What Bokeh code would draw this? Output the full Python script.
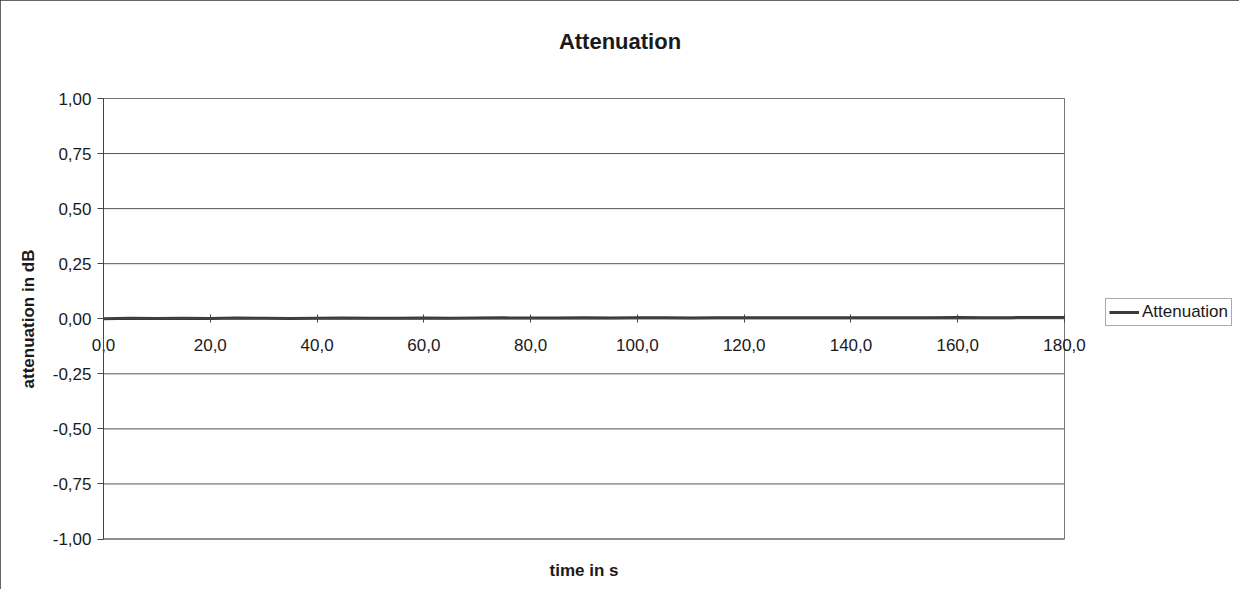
from bokeh.plotting import figure
from bokeh.models import (Range1d, FixedTicker, CustomJSTickFormatter, LinearAxis,
                          Legend, LegendItem, Title)
from bokeh.embed import file_html
from bokeh.resources import INLINE

# ---- data ----
time_s = [0, 5, 10, 15, 20, 25, 30, 35, 40, 45, 50, 55, 60, 65, 70, 75, 80, 85, 90,
          95, 100, 105, 110, 115, 120, 125, 130, 135, 140, 145, 150, 155, 160, 165,
          170, 175, 180]
attenuation_db = [0.000, 0.002, 0.001, 0.002, 0.001, 0.003, 0.002, 0.001, 0.002, 0.003,
                  0.002, 0.002, 0.003, 0.002, 0.003, 0.004, 0.003, 0.003, 0.004, 0.003,
                  0.004, 0.004, 0.003, 0.004, 0.005, 0.004, 0.005, 0.004, 0.005, 0.005,
                  0.004, 0.005, 0.006, 0.005, 0.005, 0.006, 0.006]
x_ticks = [0, 20, 40, 60, 80, 100, 120, 140, 160, 180]
y_ticks = [-1.0, -0.75, -0.5, -0.25, 0.0, 0.25, 0.5, 0.75, 1.0]
x_min, x_max = 0, 180
y_min, y_max = -1.0, 1.0
series_name = "Attenuation"
title_text = "Attenuation"
x_title = "time in s"
y_title = "attenuation in dB"

FONT = "Liberation Sans"
TXT = "#1a1a1a"

# ---- layout (pixels inside the figure) ----
W, H = 1239, 589
FRAME_L, FRAME_R = 2, W - 2
FRAME_TOP, FRAME_BOTTOM = 72, 552          # drawing frame (covers labels too)
AREA_L, AREA_R = 103, 1064                 # plot area in pixels
AREA_T, AREA_B = 98, 538.5

ux = (x_max - x_min) / (AREA_R - AREA_L)
uy = (y_max - y_min) / (AREA_B - AREA_T)
x_range = Range1d(x_min - (AREA_L - FRAME_L) * ux, x_max + (FRAME_R - AREA_R) * ux)
y_range = Range1d(y_min - (FRAME_BOTTOM - AREA_B) * uy, y_max + (AREA_T - FRAME_TOP) * uy)

p = figure(width=W, height=H, output_backend="svg", toolbar_location=None,
           x_range=x_range, y_range=y_range,
           x_axis_location=None, y_axis_location=None,
           min_border_left=FRAME_L, min_border_right=W - FRAME_R,
           min_border_top=FRAME_TOP, min_border_bottom=H - FRAME_BOTTOM)

p.outline_line_color = None
p.background_fill_color = "white"
p.border_fill_color = "white"
p.styles = {"outline": "1px solid #333333", "outline-offset": "-1px"}
p.xgrid.visible = False
p.ygrid.visible = False

# title
p.title.text = title_text
p.title.align = "center"
p.title.offset = 0
p.title.standoff = 38
p.title.text_font = FONT
p.title.text_font_size = "22px"
p.title.text_font_style = "bold"
p.title.text_color = TXT

# plot area: horizontal grid lines and border
p.segment(x0=[x_min] * len(y_ticks), x1=[x_max] * len(y_ticks), y0=y_ticks, y1=y_ticks,
          line_color="#555555", line_width=1)
p.quad(left=[x_min], right=[x_max], bottom=[y_min], top=[y_max],
       fill_color=None, line_color="#777777", line_width=1)

# y axis at x = 0
ya = LinearAxis(fixed_location=x_min, bounds=(y_min, y_max), ticker=FixedTicker(ticks=y_ticks),
                formatter=CustomJSTickFormatter(code="return tick.toFixed(2).replace('.', ',');"))
ya.axis_label = y_title
ya.axis_label_text_font = FONT
ya.axis_label_text_font_size = "17px"
ya.axis_label_text_font_style = "bold"
ya.axis_label_text_color = TXT
ya.axis_label_standoff = 12
ya.major_label_text_font = FONT
ya.major_label_text_font_size = "17px"
ya.major_label_text_color = TXT
ya.major_label_standoff = 6
ya.major_tick_in = 0
ya.major_tick_out = 6
ya.minor_tick_line_color = None
ya.axis_line_color = "#444444"
ya.major_tick_line_color = "#444444"
p.add_layout(ya, "left")

# x axis crossing at y = 0
xa = LinearAxis(fixed_location=0, bounds=(x_min, x_max), ticker=FixedTicker(ticks=x_ticks),
                formatter=CustomJSTickFormatter(code="return tick.toFixed(1).replace('.', ',');"))
xa.major_label_text_font = FONT
xa.major_label_text_font_size = "17px"
xa.major_label_text_color = TXT
xa.major_label_standoff = 16
xa.major_tick_in = 4
xa.major_tick_out = 4
xa.minor_tick_line_color = None
xa.axis_line_color = "#444444"
xa.major_tick_line_color = "#444444"
p.add_layout(xa, "below")

# x axis title, centred under the plot area (left-aligned title shifted by offset)
area_center = (AREA_L + AREA_R) / 2
x_title_width = 69
xt = Title(text=x_title, align="left", offset=area_center - x_title_width / 2 - FRAME_L,
           standoff=13, text_font=FONT, text_font_size="17px", text_font_style="bold",
           text_color=TXT)
p.add_layout(xt, "below")

r = p.line(time_s, attenuation_db, line_color="#3a3a3a", line_width=3)

legend = Legend(items=[LegendItem(label=series_name, renderers=[r])],
                location=(1105 - FRAME_L, FRAME_BOTTOM - 326), orientation="vertical")
legend.label_text_font = FONT
legend.label_text_font_size = "17px"
legend.label_text_color = TXT
legend.border_line_color = "#555555"
legend.border_line_width = 1
legend.background_fill_color = "white"
legend.background_fill_alpha = 1
legend.padding = 3
legend.margin = 0
legend.spacing = 0
legend.glyph_width = 30
legend.glyph_height = 20
legend.label_height = 20
legend.label_standoff = 3
p.add_layout(legend, "center")

open("out.html", "w").write(file_html(p, INLINE))
